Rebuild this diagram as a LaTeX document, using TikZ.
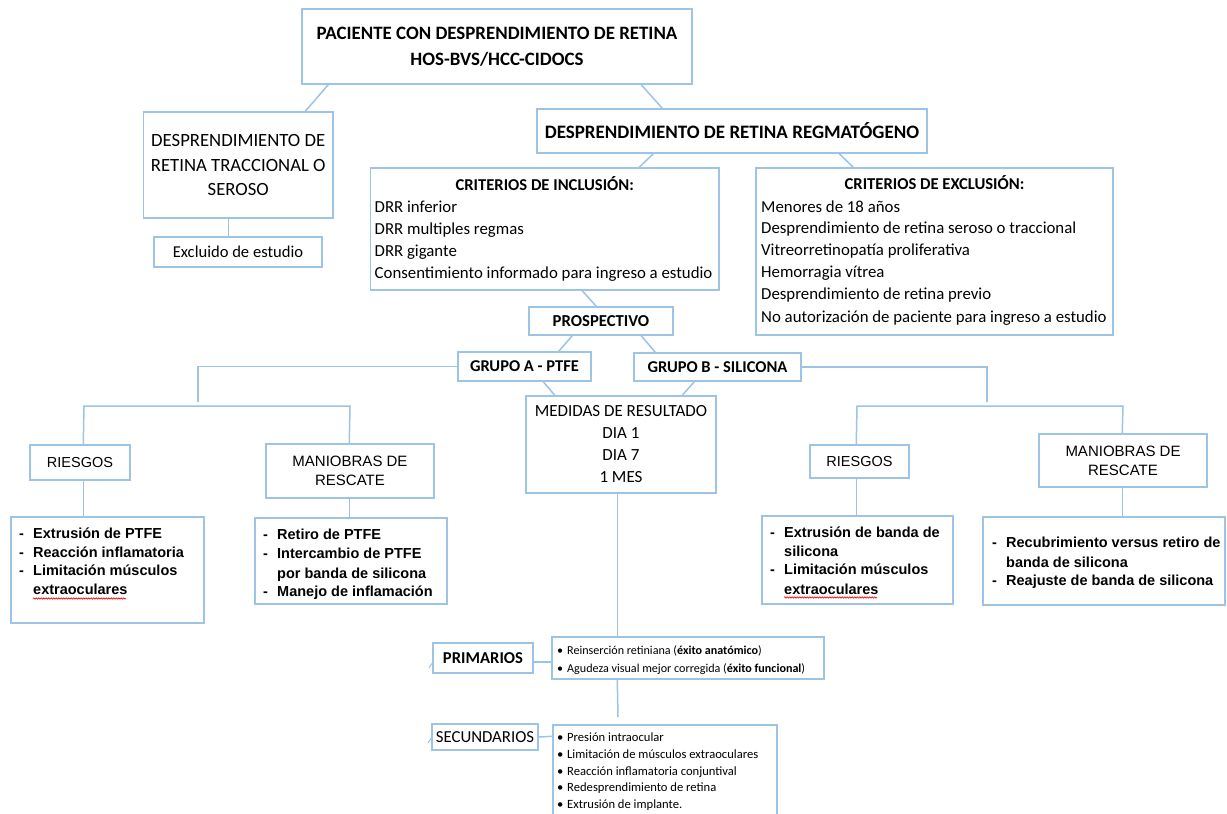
\documentclass[tikz,border=0pt]{standalone}
\usepackage{fontspec}
\setmainfont{Carlito}
\newfontfamily\arialf{Liberation Sans}
\usetikzlibrary{decorations.pathmorphing}
\definecolor{bl}{RGB}{157,195,230}
\newcommand\myfs[2]{\fontsize{#1}{#2}\selectfont}
\begin{document}
\begin{tikzpicture}[x=1pt,y=-1pt,
  box/.style={draw=bl, line width=1.5pt, fill=white, inner sep=0pt, align=center, text=black},
  conn/.style={draw=bl, line width=1.5pt},
  lt/.style={anchor=base west, inner sep=0pt},
  ct/.style={anchor=base, inner sep=0pt},
  cal/.style={font=\myfs{16.8}{20}},
  calb/.style={font=\bfseries\myfs{16.6}{20}},
  ari/.style={font=\arialf\bfseries\myfs{14.5}{18}},
  sml/.style={font=\myfs{12.1}{15}},
  smls/.style={font=\myfs{12.6}{15}},
  wavy/.style={draw=red, line width=0.6pt, decorate, decoration={snake, amplitude=0.7pt, segment length=2.5pt}}
]
\path[use as bounding box] (0,0) rectangle (1227,814);
\begin{scope}
\clip (0,0) rectangle (1227,814);
\fill[white] (0,0) rectangle (1227,814);

% ---------- boxes ----------
\node[box, minimum width=390pt, minimum height=75pt, font=\bfseries\myfs{18.9}{26}] (top) at (497,46.5)
  {PACIENTE CON DESPRENDIMIENTO DE RETINA\\HOS-BVS/HCC-CIDOCS};
\node[box, minimum width=189.5pt, minimum height=106pt, font=\myfs{18.7}{24.5}] (left) at (238.25,165)
  {DESPRENDIMIENTO DE\\RETINA TRACCIONAL O\\SEROSO};
\node[box, minimum width=168pt, minimum height=30pt, font=\myfs{16.6}{20}] (excl) at (238,252) {Excluido de estudio};
\node[box, minimum width=390pt, minimum height=44pt, font=\bfseries\myfs{19}{24}] (regma) at (732,131)
  {DESPRENDIMIENTO DE RETINA REGMATÓGENO};
\node[box, minimum width=348.5pt, minimum height=122pt] (incl) at (544.75,229) {};
\node[box, minimum width=357pt, minimum height=167pt] (exclc) at (934.5,251.5) {};
\node[box, minimum width=144pt, minimum height=28pt, font=\bfseries\myfs{16.7}{20}] (prosp) at (601,321) {PROSPECTIVO};
\node[box, minimum width=133pt, minimum height=29pt, font=\bfseries\myfs{16.5}{20}] (grpA) at (524.5,366.5) {GRUPO A - PTFE};
\node[box, minimum width=167pt, minimum height=28pt, font=\bfseries\myfs{16.5}{20}] (grpB) at (717.5,367) {GRUPO B - SILICONA};
\node[box, minimum width=190pt, minimum height=97pt, font=\myfs{17}{22}] (med) at (621,444.5)
  {MEDIDAS DE RESULTADO\\DIA 1\\DIA 7\\1 MES};
\node[box, minimum width=100pt, minimum height=35pt, font=\arialf\myfs{14.5}{18}] (riesA) at (80,462.5) {RIESGOS};
\node[box, minimum width=193pt, minimum height=106pt] (listRA) at (107.5,570) {};
\node[box, minimum width=168pt, minimum height=54pt, font=\arialf\myfs{15}{19}] (manA) at (350,471) {MANIOBRAS DE\\RESCATE};
\node[box, minimum width=192pt, minimum height=86pt] (listMA) at (351,561) {};
\node[box, minimum width=99pt, minimum height=33pt, font=\arialf\myfs{14.5}{18}] (riesB) at (859.5,461.5) {RIESGOS};
\node[box, minimum width=191pt, minimum height=88pt] (listRB) at (857.5,560) {};
\node[box, minimum width=168pt, minimum height=53pt, font=\arialf\myfs{15}{19}] (manB) at (1123,460.5) {MANIOBRAS DE\\RESCATE};
\node[box, minimum width=242pt, minimum height=88pt] (listMB) at (1104,561) {};
\node[box, minimum width=100pt, minimum height=30pt, font=\bfseries\myfs{16.6}{20}] (prim) at (483,658) {PRIMARIOS};
\node[box, minimum width=272pt, minimum height=42pt] (listP) at (688,658) {};
\node[box, minimum width=106pt, minimum height=26pt, font=\myfs{16.8}{20}] (sec) at (485,737) {SECUNDARIOS};
\node[box, minimum width=224pt, minimum height=115pt] (listS) at (665,782.5) {};

% ---------- texts inside list boxes ----------
\node[ct, calb] (inclT) at (544.75,190) {CRITERIOS DE INCLUSIÓN:};
\node[lt, cal] (in1) at (374.5,212) {DRR inferior};
\node[lt, cal] (in2) at (374.5,234) {DRR multiples regmas};
\node[lt, cal] (in3) at (374.5,256) {DRR gigante};
\node[lt, cal] (in4) at (374.5,278) {Consentimiento informado para ingreso a estudio};

\node[ct, calb] (exT) at (934.5,189) {CRITERIOS DE EXCLUSIÓN:};
\node[lt, cal] (ex1) at (761,212) {Menores de 18 años};
\node[lt, cal] (ex2) at (761,233) {Desprendimiento de retina seroso o traccional};
\node[lt, cal] (ex3) at (761,255) {Vitreorretinopatía proliferativa};
\node[lt, cal] (ex4) at (761,277) {Hemorragia vítrea};
\node[lt, cal] (ex5) at (761,299) {Desprendimiento de retina previo};
\node[lt, cal] (ex6) at (761,322) {No autorización de paciente para ingreso a estudio};

\node[lt, ari] (ra1) at (19,538) {\makebox[14pt][l]{-}Extrusión de PTFE};
\node[lt, ari] (ra2) at (19,557) {\makebox[14pt][l]{-}Reacción inflamatoria};
\node[lt, ari] (ra3) at (19,575) {\makebox[14pt][l]{-}Limitación músculos};
\node[lt, ari] (ra4) at (33,594) {extraoculares};
\draw[wavy] (33,598.5) -- (126,598.5);

\node[lt, ari] (ma1) at (263,539) {\makebox[14pt][l]{-}Retiro de PTFE};
\node[lt, ari] (ma2) at (263,558) {\makebox[14pt][l]{-}Intercambio de PTFE};
\node[lt, ari] (ma3) at (277,578) {por banda de silicona};
\node[lt, ari] (ma4) at (263,596) {\makebox[14pt][l]{-}Manejo de inflamación};

\node[lt, ari] (rb1) at (770,537) {\makebox[14pt][l]{-}Extrusión de banda de};
\node[lt, ari] (rb2) at (784,556) {silicona};
\node[lt, ari] (rb3) at (770,574) {\makebox[14pt][l]{-}Limitación músculos};
\node[lt, ari] (rb4) at (784,594) {extraoculares};
\draw[wavy] (784,597.5) -- (877,597.5);

\node[lt, ari] (mb1) at (992,547) {\makebox[14pt][l]{-}Recubrimiento versus retiro de};
\node[lt, ari] (mb2) at (1006,567) {banda de silicona};
\node[lt, ari] (mb3) at (992,585) {\makebox[14pt][l]{-}Reajuste de banda de silicona};

\node[lt, sml] (p1) at (557,654) {\makebox[10pt][l]{•}Reinserción retiniana (\textbf{éxito anatómico})};
\node[lt, sml] (p2) at (557,672) {\makebox[10pt][l]{•}Agudeza visual mejor corregida (\textbf{éxito funcional})};

\node[lt, smls] (s1) at (557,741) {\makebox[10pt][l]{•}Presión intraocular};
\node[lt, smls] (s2) at (557,758) {\makebox[10pt][l]{•}Limitación de músculos extraoculares};
\node[lt, smls] (s3) at (557,775) {\makebox[10pt][l]{•}Reacción inflamatoria conjuntival};
\node[lt, smls] (s4) at (557,791) {\makebox[10pt][l]{•}Redesprendimiento de retina};
\node[lt, smls] (s5) at (557,808) {\makebox[10pt][l]{•}Extrusión de implante.};

% ---------- connectors ----------
\draw[conn] ([xshift=27pt]top.south west) -- ([xshift=162.5pt]left.north west);
\draw[conn] ([xshift=340pt]top.south west) -- ([xshift=126pt]regma.north west);
\draw[conn] ([xshift=85.5pt]left.south west) -- ([xshift=75pt]excl.north west);
\draw[conn] ([xshift=117pt]regma.south west) -- ([xshift=269.5pt]incl.north west);
\draw[conn] ([xshift=303pt]regma.south west) -- ([xshift=98pt]exclc.north west);
\draw[conn] ([xshift=212.5pt]incl.south west) -- ([xshift=68pt]prosp.north west);
\draw[conn] ([xshift=44pt]prosp.south west) -- ([xshift=101.5pt]grpA.north west);
\draw[conn] ([xshift=113pt]prosp.south west) -- ([xshift=22pt]grpB.north west);
\draw[conn] ([xshift=86pt]grpA.south west) -- ([xshift=29.5pt]med.north west);
\draw[conn] ([xshift=61pt]grpB.south west) -- ([xshift=157pt]med.north west);

\coordinate (aJ) at (198,402);
\coordinate (aL) at (84,406);
\coordinate (aR) at (350,406);
\draw[conn] (grpA.west) -| (aJ);
\draw[conn] ([xshift=54pt]riesA.north west) -- (aL) -- (aR) -- ([xshift=84pt]manA.north west);
\draw[conn] ([xshift=54pt]riesA.south west) -- ([xshift=73pt]listRA.north west);
\draw[conn] ([xshift=84pt]manA.south west) -- ([xshift=95pt]listMA.north west);

\coordinate (bJ) at (987,402);
\coordinate (bL) at (857,406);
\coordinate (bR) at (1123,406);
\draw[conn] (grpB.east) -| (bJ);
\draw[conn] ([xshift=47pt]riesB.north west) -- (bL) -- (bR) -- ([xshift=84pt]manB.north west);
\draw[conn] ([xshift=47pt]riesB.south west) -- ([xshift=95pt]listRB.north west);
\draw[conn] ([xshift=84pt]manB.south west) -- ([xshift=140pt]listMB.north west);

\draw[conn] ([xshift=92pt]med.south west) -- ([xshift=66pt]listP.north west);
\draw[conn] ([yshift=-4pt]prim.east) -- ([yshift=-4pt]listP.west);
\coordinate (pEnd) at (618,717);
\draw[conn] ([xshift=66pt]listP.south west) -- (pEnd);
\draw[conn] (sec.east) -- ([yshift=-12pt]listS.north west);

\coordinate (ps) at (429,668);
\coordinate (ss) at (428,743);
\draw[conn, line width=1pt] ([yshift=-5pt]prim.west) -- (ps);
\draw[conn, line width=1pt] ([yshift=-1pt]sec.west) -- (ss);
\end{scope}
\end{tikzpicture}
\end{document}
